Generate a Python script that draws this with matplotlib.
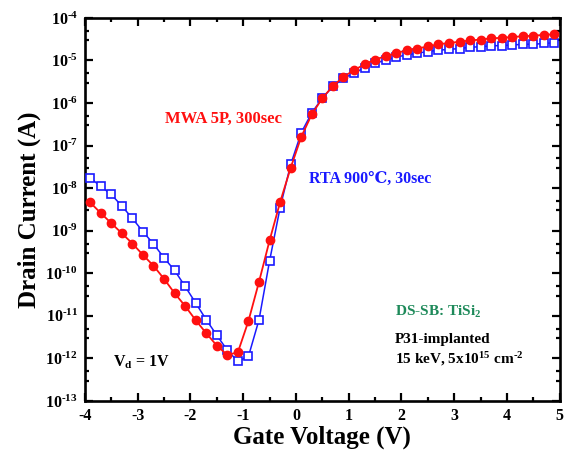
import matplotlib
matplotlib.use("Agg")
import matplotlib.pyplot as plt
from matplotlib.ticker import FixedLocator, NullFormatter
import numpy as np

plt.rcParams['font.family'] = ['Liberation Serif', 'DejaVu Serif', 'DejaVu Sans']
plt.rcParams['font.weight'] = 'bold'
plt.rcParams['mathtext.fontset'] = 'custom'
plt.rcParams['mathtext.rm'] = 'Liberation Serif:bold'
plt.rcParams['mathtext.bf'] = 'Liberation Serif:bold'
plt.rcParams['mathtext.it'] = 'Liberation Serif:bold:italic'
plt.rcParams['axes.unicode_minus'] = False

# gate voltage (V), one point every 0.2 V
vg = np.round(np.arange(-3.9, 5.0, 0.2), 1)

# MWA 5P, 300 sec  (drain current, A)
i_mwa = [4.6e-9, 2.6e-9, 1.5e-9, 8.7e-10, 5.0e-10, 2.7e-10, 1.5e-10, 7.4e-11,
         3.4e-11, 1.7e-11, 7.9e-12, 3.9e-12, 2.0e-12, 1.2e-12, 1.4e-12, 7.6e-12,
         6.3e-11, 5.9e-10, 4.7e-9, 3.0e-8, 1.6e-7, 5.4e-7, 1.3e-6, 2.5e-6,
         4.1e-6, 5.9e-6, 8.1e-6, 1.05e-5, 1.26e-5, 1.48e-5, 1.74e-5, 1.9e-5,
         2.14e-5, 2.4e-5, 2.57e-5, 2.75e-5, 2.95e-5, 3.09e-5, 3.3e-5, 3.4e-5,
         3.55e-5, 3.7e-5, 3.8e-5, 4.0e-5, 4.1e-5]

# RTA 900C, 30 sec  (drain current, A)
i_rta = [1.74e-8, 1.1e-8, 7.1e-9, 3.8e-9, 1.95e-9, 9.5e-10, 4.9e-10, 2.3e-10,
         1.17e-10, 4.9e-11, 2.0e-11, 8.1e-12, 3.5e-12, 1.55e-12, 8.5e-13, 1.12e-12,
         8.1e-12, 1.95e-10, 3.5e-9, 3.6e-8, 2.0e-7, 5.9e-7, 1.3e-6, 2.45e-6,
         3.8e-6, 5.0e-6, 6.8e-6, 8.5e-6, 1.02e-5, 1.2e-5, 1.35e-5, 1.48e-5,
         1.62e-5, 1.74e-5, 1.82e-5, 1.9e-5, 2.04e-5, 2.1e-5, 2.2e-5, 2.24e-5,
         2.3e-5, 2.4e-5, 2.4e-5, 2.5e-5, 2.6e-5]

x_ticks = [-4, -3, -2, -1, 0, 1, 2, 3, 4, 5]
y_exps = [-13, -12, -11, -10, -9, -8, -7, -6, -5, -4]

RED = '#ff1010'
BLUE = '#1a1aff'

fig = plt.figure(figsize=(5.66, 4.58), dpi=100)
ax = fig.add_axes([0.150, 0.1245, 0.839, 0.8365])

ax.plot(vg, i_rta, color=BLUE, lw=1.1, marker='s', ms=5.2, mfc='white',
        mec=BLUE, mew=1.2, zorder=3)
ax.plot(vg, i_mwa, color=RED, lw=1.3, marker='o', ms=6, mfc=RED,
        mec=RED, zorder=4)

ax.set_yscale('log')
ax.set_xlim(-4, 5)
ax.set_ylim(1e-13, 1e-4)

ax.xaxis.set_major_locator(FixedLocator(x_ticks))
ax.set_xticklabels([str(t) for t in x_ticks])
ax.xaxis.set_minor_locator(FixedLocator(np.arange(-3.5, 5, 1.0)))

ax.yaxis.set_major_locator(FixedLocator([10.0 ** e for e in y_exps]))
ax.set_yticklabels([r'10$^{\text{-%d}}$' % -e for e in y_exps])
minors = [m * 10.0 ** e for e in y_exps[:-1] for m in (3, 5)]
ax.yaxis.set_minor_locator(FixedLocator(minors))
ax.yaxis.set_minor_formatter(NullFormatter())

ax.tick_params(which='both', direction='in', top=True, right=True, width=1.6)
ax.tick_params(which='major', length=5.5, labelsize=11.5, pad=5)
ax.tick_params(which='minor', length=3)
for lab in ax.get_xticklabels() + ax.get_yticklabels():
    lab.set_fontweight('bold')
for s in ax.spines.values():
    s.set_linewidth(1.9)

ax.set_xlabel('Gate Voltage (V)', fontsize=18, fontweight='bold', labelpad=1)
ax.set_ylabel('Drain Current (A)', fontsize=18, fontweight='bold', labelpad=3)

ax.text(0.168, 0.737, 'MWA 5P, 300sec', transform=ax.transAxes, color=RED,
        fontsize=12, fontweight='bold', va='center')
ax.text(0.472, 0.579, 'RTA 900\u2103, 30sec', transform=ax.transAxes,
        color=BLUE, fontsize=11.5, fontweight='bold', va='center',
        family=['Liberation Serif', 'DejaVu Serif', 'DejaVu Sans'])
ax.text(0.652, 0.233, r'DS-SB: TiSi$_{2}$', transform=ax.transAxes,
        color='#1e8a5a', fontsize=11, fontweight='bold', va='center')
ax.text(0.652, 0.160, 'P31-implanted', transform=ax.transAxes,
        color='black', fontsize=11, fontweight='bold', va='center')
ax.text(0.652, 0.110, r'15 keV, 5x10$^{15}$ cm$^{\text{-2}}$', transform=ax.transAxes,
        color='black', fontsize=11, fontweight='bold', va='center')
ax.text(0.060, 0.100, r'V$_{\mathbf{d}}$ = 1V', transform=ax.transAxes,
        color='black', fontsize=11.5, fontweight='bold', va='center')

fig.savefig('out.png', dpi=100)
